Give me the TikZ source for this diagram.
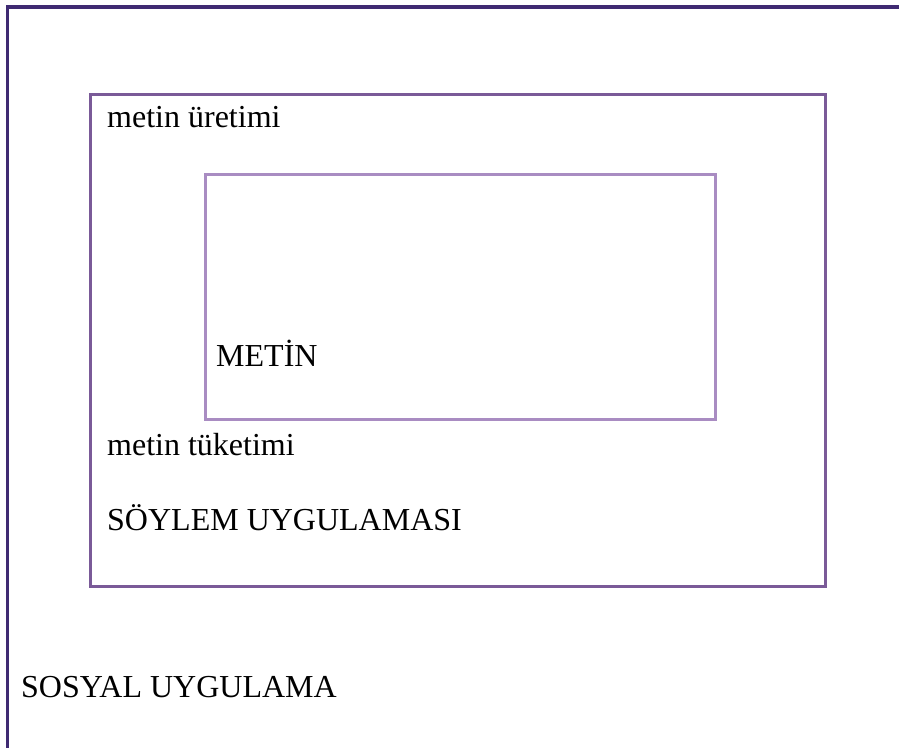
\documentclass[tikz,border=0pt]{standalone}
\usepackage{fontspec}
\setmainfont{Liberation Serif}
\definecolor{outerc}{HTML}{3F2A72}
\definecolor{midc}{HTML}{7A5A98}
\definecolor{innerc}{HTML}{A98CC2}
\begin{document}
\begin{tikzpicture}[x=1pt,y=-1pt,
  lbl/.style={anchor=base west,inner sep=0pt,font=\fontsize{32}{38}\selectfont,text=black}]
\useasboundingbox[fill=white] (0,0) rectangle (899,747);
\begin{scope}
\clip (0,0) rectangle (899,747);
\draw[outerc,line width=3.5pt] (7.5,760) -- (7.5,7) -- (910,7);
\end{scope}
\node[draw=midc,line width=3pt,minimum width=735pt,minimum height=492pt,anchor=north west,inner sep=0pt] (mid) at (89,93) {};
\node[draw=innerc,line width=3pt,minimum width=510pt,minimum height=245pt,anchor=north west,inner sep=0pt] (inner) at (204,173) {};
\node[lbl] (uretim) at (107,127) {metin üretimi};
\node[lbl] (metin) at (216,366) {METİN};
\node[lbl] (tuketim) at (107,455) {metin tüketimi};
\node[lbl] (soylem) at (107,530) {SÖYLEM UYGULAMASI};
\node[lbl] (sosyal) at (21,697) {SOSYAL UYGULAMA};
\end{tikzpicture}
\end{document}
